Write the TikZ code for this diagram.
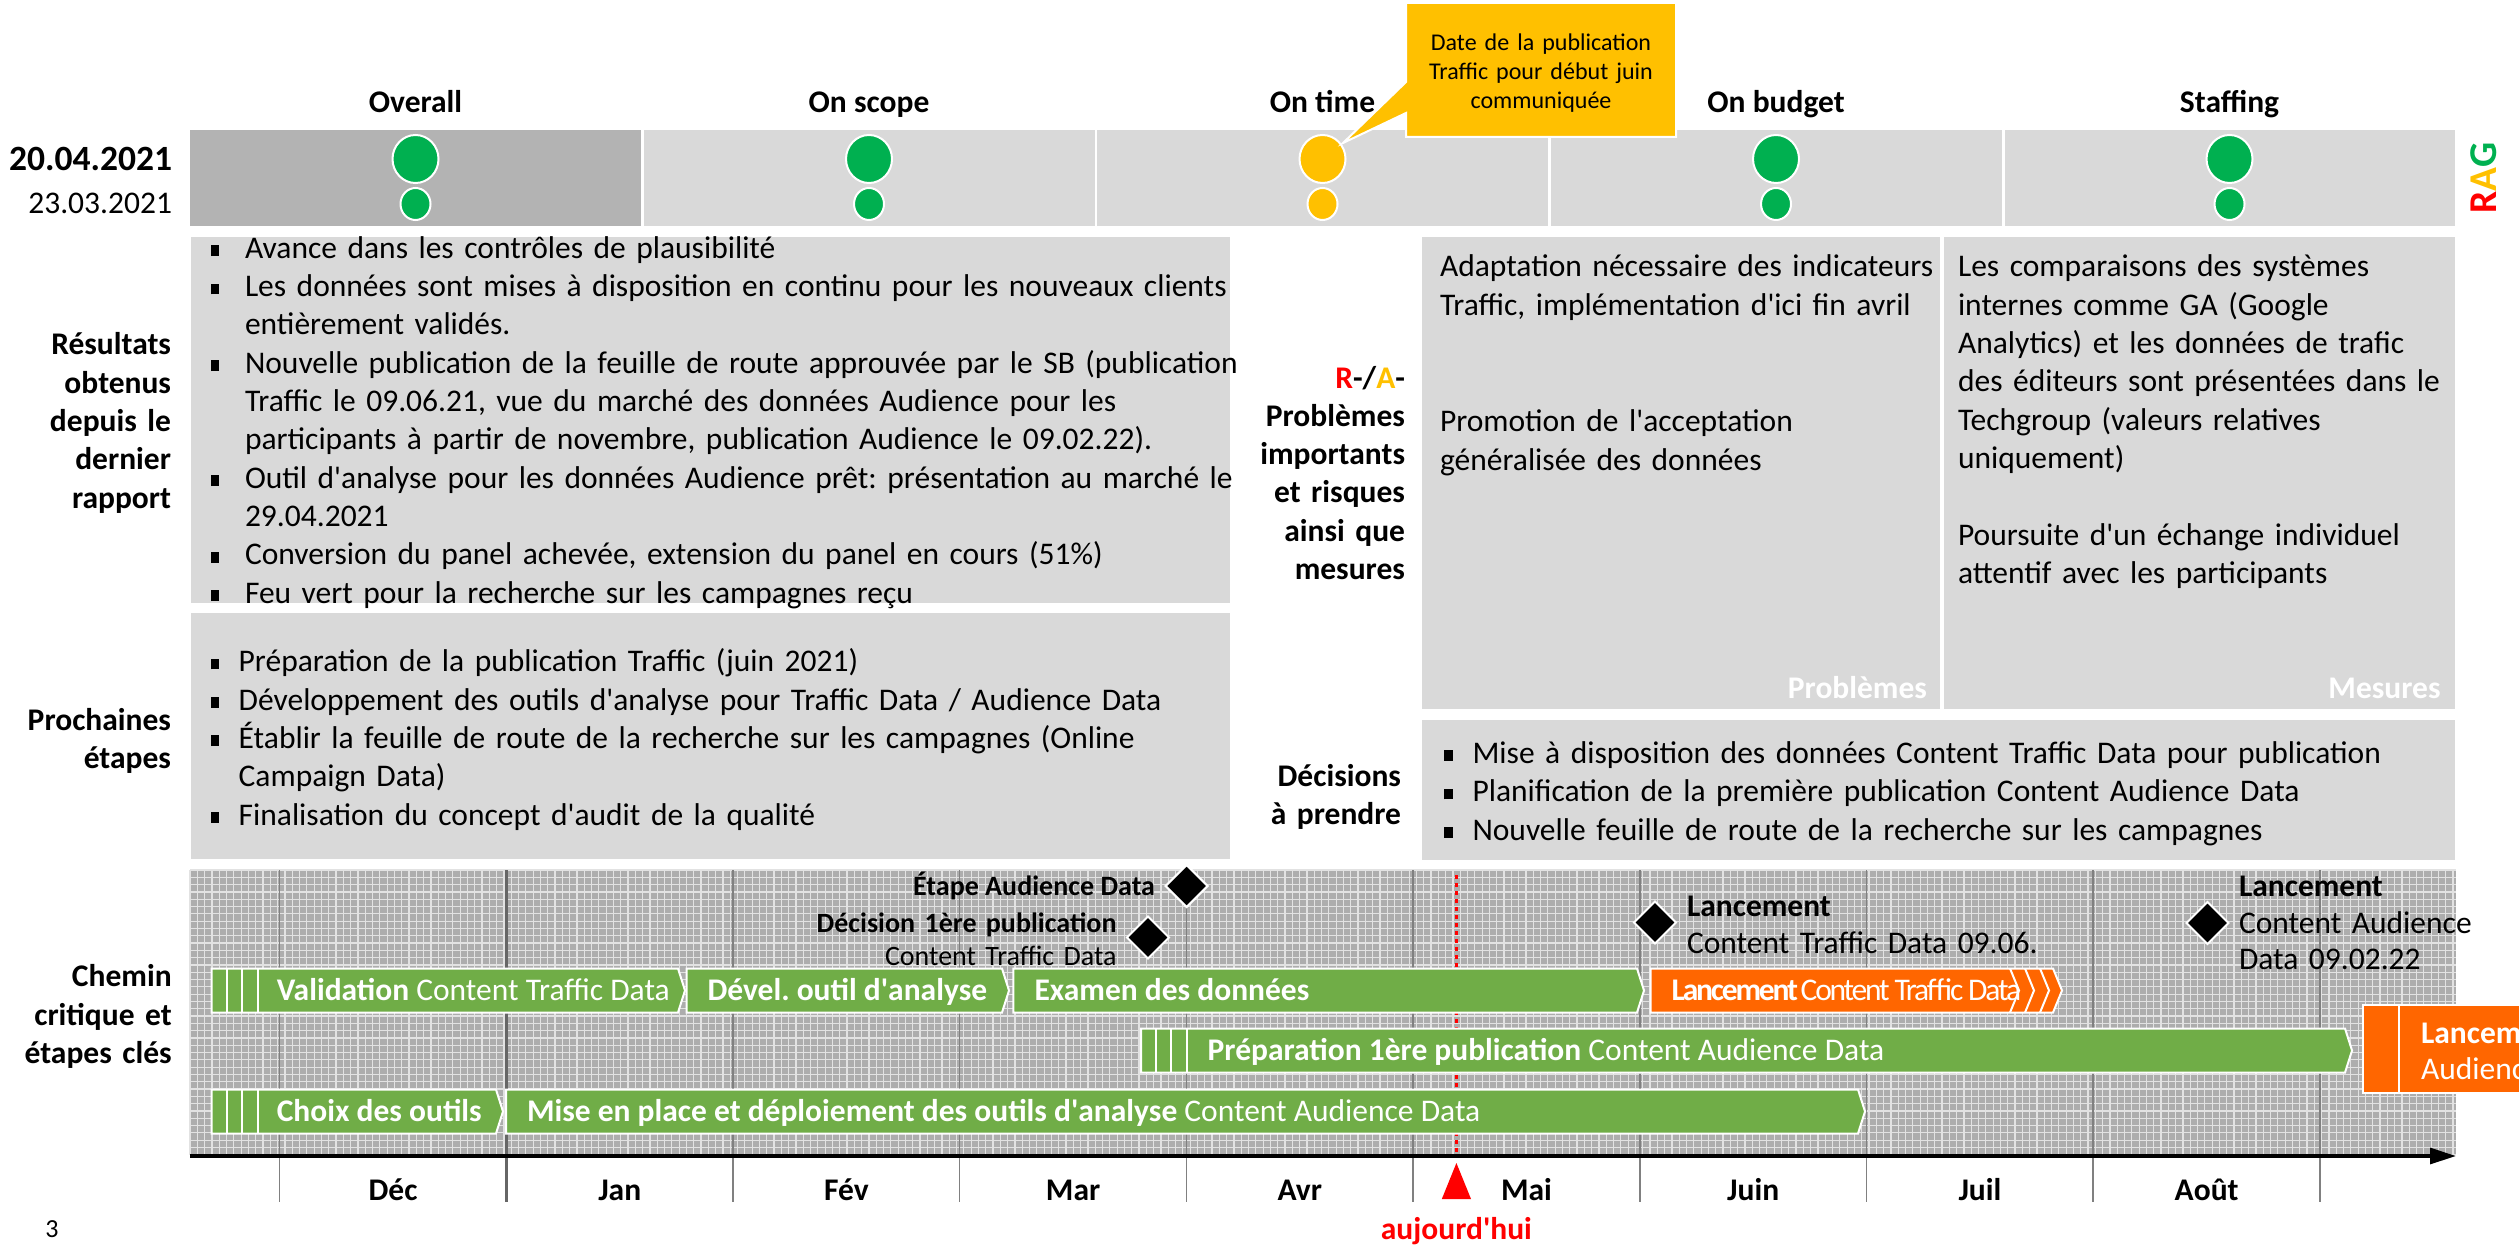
\documentclass[tikz,border=0pt]{standalone}
\usepackage{fontspec}
\setmainfont{Carlito}
\usetikzlibrary{shapes.geometric,arrows.meta}
\newlength\px \setlength\px{0.01cm}
\definecolor{cG}{HTML}{00B050}
\definecolor{cY}{HTML}{FFC000}
\definecolor{cR}{HTML}{FF0000}
\definecolor{bargreen}{HTML}{70AD47}
\definecolor{barorange}{HTML}{FF6600}
\definecolor{lgray}{HTML}{D9D9D9}
\definecolor{dgray}{HTML}{B3B3B3}
\definecolor{gridbg}{HTML}{ADADAD}
\definecolor{gridln}{HTML}{E2E2E2}
\definecolor{mline}{HTML}{808080}
\definecolor{mlinedark}{HTML}{666666}
\newcommand\bodyfont{\fontsize{8.96}{10.9}\selectfont}
\newcommand\decfont{\fontsize{8.96}{10.95}\selectfont}
\newcommand\datefont{\fontsize{10.1}{12}\selectfont}
\newcommand\callfont{\fontsize{6.83}{8.25}\selectfont}
\newcommand\msfont{\fontsize{7.97}{9.39}\selectfont}
\newcommand\lfont{\fontsize{8.96}{10.42}\selectfont}
\newcommand\ragfont{\fontsize{11.2}{12}\selectfont}
\newcommand\pgnfont{\fontsize{7.4}{9}\selectfont}
\newcommand\q{\textquotesingle}
\newcommand\bul{\rule[0.07em]{0.28em}{0.34em}}
\newlength\bhang
\newcommand\bi[1]{\hangindent=\bhang\hangafter=1\noindent\makebox[\bhang][l]{\bul}#1\par}
\newcommand\nl{\hfil\break}
\newcommand\pbar[5]{\filldraw[fill=#5, draw=white, line width=0.57pt] (#1,#3) -- ({#2-7},#3) -- (#2,{(#3+#4)/2}) -- ({#2-7},#4) -- (#1,#4) -- cycle;}
\begin{document}
\frenchspacing
\begin{tikzpicture}[x=0.01cm,y=-0.01cm,
  every node/.style={inner sep=0pt,outer sep=0pt},
  hdr/.style={font=\bodyfont\bfseries, anchor=base},
  lbl/.style={font=\bodyfont\bfseries, align=right, text width=400\px, anchor=base east},
  txt/.style={font=\bodyfont, align=left, text width=1150\px, anchor=base west},
  bartxt/.style={font=\bodyfont, text=white, anchor=base west},
  dia/.style={diamond, aspect=1, fill=black, draw=white, line width=0.57pt, minimum width=42\px, minimum height=42\px},
  stat/.style={ellipse, fill=#1, draw=white, line width=0.57pt},
  bigst/.style={minimum width=46\px, minimum height=48\px},
  smst/.style={minimum width=30\px, minimum height=32\px},
  stripe/.style={white, line width=0.57pt}]
\useasboundingbox (0,0) rectangle (2519,1246);
% ---------- header ----------
\node[hdr] (hOverall) at (415.5,113) {Overall};
\node[hdr] (hScope) at (869,113) {On scope};
\node[hdr] (hTime) at (1322.5,113) {On time};
\node[hdr] (hBudget) at (1776,113) {On budget};
\node[hdr] (hStaff) at (2229.5,113) {Staffing};
\fill[dgray] (190,130) rectangle (641,226);
\fill[lgray] (643.5,130) rectangle (1094.5,226);
\fill[lgray] (1097,130) rectangle (1548,226);
\fill[lgray] (1551,130) rectangle (2001.5,226);
\fill[lgray] (2004.5,130) rectangle (2455,226);
\node[stat=cG, bigst] (bO) at (415.5,159) {};
\node[stat=cG, smst] (sO) at (415.5,204) {};
\node[stat=cG, bigst] (bS) at (869,159) {};
\node[stat=cG, smst] (sS) at (869,204) {};
\node[stat=cY, bigst] (bT) at (1322.5,159) {};
\node[stat=cY, smst] (sT) at (1322.5,204) {};
\node[stat=cG, bigst] (bB) at (1776,159) {};
\node[stat=cG, smst] (sB) at (1776,204) {};
\node[stat=cG, bigst] (bF) at (2229.5,159) {};
\node[stat=cG, smst] (sF) at (2229.5,204) {};
\node[font=\datefont\bfseries, anchor=base east] (d1) at (172,171) {20.04.2021};
\node[font=\bodyfont, anchor=base east] (d2) at (172,214) {23.03.2021};
\node[font=\ragfont\bfseries, rotate=90] (rag) at (2484,178) {\textcolor{cR}{R}\textcolor{cY}{A}\textcolor{cG}{G}};
% callout
\filldraw[fill=cY, draw=white, line width=0.57pt] (1406,3) -- (1676,3) -- (1676,137) -- (1406,137) -- (1406,113) -- (1343,143) -- (1406,82) -- cycle;
\node[font=\callfont, align=center, text width=270\px, anchor=base] (call) at (1541,50.4) {Date de la publication\\Traffic pour début juin\\communiquée};
% ---------- boxes ----------
\fill[lgray] (190.5,236.7) rectangle (1229.5,603);
\fill[lgray] (190.5,612.7) rectangle (1229.5,859.3);
\fill[lgray] (1422,236.7) rectangle (1940,709);
\fill[lgray] (1944,236.7) rectangle (2455,709);
\fill[lgray] (1422,720) rectangle (2455,860);
\node[txt] (res) at (210.5,258.3) {\setlength\bhang{34.5\px}%
\bi{Avance dans les contrôles de plausibilité}%
\bi{Les données sont mises à disposition en continu pour les nouveaux clients\nl entièrement validés.}%
\bi{Nouvelle publication de la feuille de route approuvée par le SB (publication\nl Traffic le 09.06.21, vue du marché des données Audience pour les\nl participants à partir de novembre, publication Audience le 09.02.22).}%
\bi{Outil d\q analyse pour les données Audience prêt: présentation au marché le\nl 29.04.2021}%
\bi{Conversion du panel achevée, extension du panel en cours (51\%)}%
\bi{Feu vert pour la recherche sur les campagnes reçu}};
\node[txt] (nxt) at (210.5,671.7) {\setlength\bhang{28.2\px}%
\bi{Préparation de la publication Traffic (juin 2021)}%
\bi{Développement des outils d\q analyse pour Traffic Data / Audience Data}%
\bi{Établir la feuille de route de la recherche sur les campagnes (Online\nl Campaign Data)}%
\bi{Finalisation du concept d\q audit de la qualité}};
\node[txt, text width=500\px] (p1) at (1440,276.7) {Adaptation nécessaire des indicateurs\\Traffic, implémentation d\q ici fin avril};
\node[txt, text width=500\px] (p2) at (1440,431.7) {Promotion de l\q acceptation\\généralisée des données};
\node[txt, text width=500\px] (m1) at (1958,276.7) {Les comparaisons des systèmes\\internes comme GA (Google\\Analytics) et les données de trafic\\des éditeurs sont présentées dans le\\Techgroup (valeurs relatives\\uniquement)};
\node[txt, text width=500\px] (m2) at (1958,545) {Poursuite d\q un échange individuel\\attentif avec les participants};
\node[font=\bodyfont\bfseries, text=white, anchor=base east] (lp) at (1927,698) {Problèmes};
\node[font=\bodyfont\bfseries, text=white, anchor=base east] (lm) at (2440.6,698) {Mesures};
\node[txt, font=\decfont] (dec) at (1444,763) {\setlength\bhang{28.5\px}%
\bi{Mise à disposition des données Content Traffic Data pour publication}%
\bi{Planification de la première publication Content Audience Data}%
\bi{Nouvelle feuille de route de la recherche sur les campagnes}};
% left labels
\node[lbl] (lres) at (171,355) {Résultats\\obtenus\\depuis le\\dernier\\rapport};
\node[lbl] (lnext) at (171,730) {Prochaines\\étapes};
\node[lbl] (lprob) at (1405,388) {\textcolor{cR}{R}-/\textcolor{cY}{A}-\\Problèmes\\importants\\et risques\\ainsi que\\mesures};
\node[lbl] (ldec) at (1401,786) {Décisions\\à prendre};
\node[lbl] (lchem) at (171.7,986.7) {Chemin\\critique et\\étapes clés};
% ---------- gantt ----------
\fill[gridbg] (190,870) rectangle (2456,1155);
\foreach \i in {0,...,310} \draw[gridln, line width=0.34pt] ({190+7.3*\i},870) -- ({190+7.3*\i},1155);
\foreach \j in {0,...,39} \draw[gridln, line width=0.34pt] (190,{870+7.3*\j}) -- (2456,{870+7.3*\j});
\foreach \k in {0,...,9} \draw[mline, line width=0.43pt] ({279.6+226.7*\k},870) -- ({279.6+226.7*\k},1202);
\draw[mlinedark, line width=0.85pt] (506.3,870) -- (506.3,1202);
\draw[cR, line width=0.85pt, dash pattern=on 1.14pt off 1.14pt] (1456.4,875) -- (1456.4,1153);
% row 1
\pbar{211.7}{685}{968.5}{1012.5}{bargreen}
\foreach \s in {226.7,242.3,257.7} \draw[stripe] (\s,968.5) -- (\s,1012.5);
\pbar{686.5}{1009}{968.5}{1012.5}{bargreen}
\pbar{1013.4}{1644}{968.5}{1012.5}{bargreen}
\filldraw[fill=barorange, draw=white, line width=0.57pt] (1650.7,968.5) -- (2053,968.5) -- (2062,990.5) -- (2053,1012.5) -- (1650.7,1012.5) -- cycle;
\foreach \s in {2010,2025,2040} \draw[stripe] (\s,968.5) -- ({\s+9},990.5) -- (\s,1012.5);
% row 2
\pbar{1141}{2352}{1028.5}{1072.5}{bargreen}
\foreach \s in {1155.5,1171,1187.4} \draw[stripe] (\s,1028.5) -- (\s,1072.5);
\filldraw[fill=barorange, draw=white, line width=0.57pt] (2363,1005) rectangle (2580,1093);
\draw[stripe] (2399,1005) -- (2399,1093);
% row 3
\pbar{211.7}{503}{1089.5}{1133.5}{bargreen}
\foreach \s in {226.7,242.3,257.7} \draw[stripe] (\s,1089.5) -- (\s,1133.5);
\pbar{506.2}{1865}{1089.5}{1133.5}{bargreen}
% bar texts
\node[bartxt] (t1) at (276.8,1000.5) {\textbf{Validation} Content Traffic Data};
\node[bartxt] (t2) at (707.5,1000.5) {\textbf{Dével. outil d\q analyse}};
\node[bartxt] (t3) at (1034.5,1000.5) {\textbf{Examen des données}};
\node[bartxt] (t4) at (1671.7,1000.5) {\addfontfeatures{LetterSpace=-7}\textbf{Lancement} Content Traffic Data};
\node[bartxt] (t5) at (1207.7,1060.5) {\textbf{Préparation 1ère publication} Content Audience Data};
\node[bartxt, align=left, text width=300\px, font=\lfont] (t8) at (2421,1043) {\textbf{Lancement}\\Audience Data};
\node[bartxt] (t6) at (276.8,1121.5) {\textbf{Choix des outils}};
\node[bartxt] (t7) at (527,1121.5) {\textbf{Mise en place et déploiement des outils d\q analyse} Content Audience Data};
% milestones
\node[dia] (dEtape) at (1186.6,886) {};
\node[dia] (dDec) at (1148,937.5) {};
\node[dia] (dL1) at (1655,922.5) {};
\node[dia] (dL2) at (2207.5,923) {};
\node[font=\msfont\bfseries, anchor=base east] (lEtape) at (1155,895.7) {Étape Audience Data};
\node[font=\msfont, align=right, text width=400\px, anchor=base east] (lDec) at (1116.5,932) {\textbf{Décision 1ère publication}\\Content Traffic Data};
\node[font=\lfont, align=left, text width=500\px, anchor=base west] (lL1) at (1687,916.7) {\textbf{Lancement}\\Content Traffic Data 09.06.};
\node[font=\lfont, align=left, text width=400\px, anchor=base west] (lL2) at (2239,896.7) {\textbf{Lancement}\\Content Audience\\Data 09.02.22};
% axis
\coordinate (axS) at (190,1156);
\coordinate (axE) at (2456,1156);
\draw[black, line width=1pt, -{Triangle[length=7.4pt, width=4.5pt]}] (axS) -- (axE);
\foreach \m [count=\c from 0] in {Déc,Jan,Fév,Mar,Avr,Mai,Juin,Juil,Août}
  \node[font=\bodyfont\bfseries, anchor=base] (mon\c) at ({393+226.7*\c},1200) {\m};
\fill[cR] (1441.8,1199) -- (1471,1199) -- (1456.4,1163) -- cycle;
\node[font=\bodyfont\bfseries, text=cR, anchor=base] (today) at (1456.4,1239) {aujourd\q hui};
\node[font=\pgnfont, anchor=base] (pg) at (52,1237) {3};
\end{tikzpicture}
\end{document}
